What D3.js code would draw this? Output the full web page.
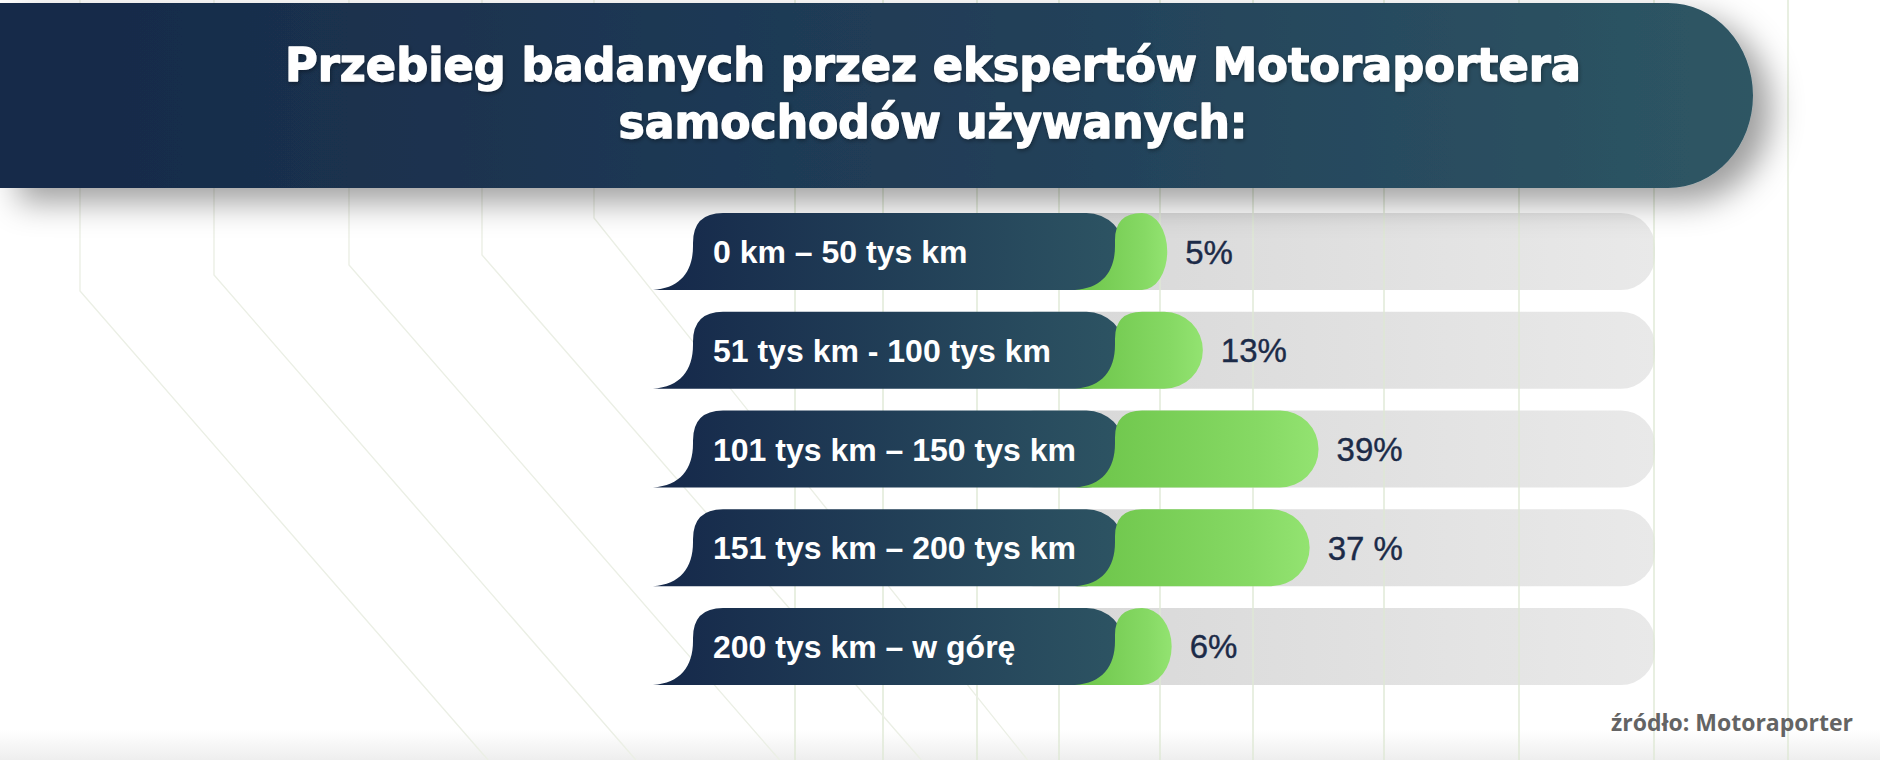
<!DOCTYPE html>
<html>
<head>
<meta charset="utf-8">
<script src="https://cdn.jsdelivr.net/npm/d3@7/dist/d3.min.js"></script>
<style>
  html, body { margin: 0; padding: 0; background: #fff; }
  svg { display: block; }
</style>
</head>
<body>
<script>
'use strict';

var width  = 1880;
var height = 760;

// data
var categories  = ['0 km – 50 tys km', '51 tys km - 100 tys km', '101 tys km – 150 tys km',
                   '151 tys km – 200 tys km', '200 tys km – w górę'];
var values      = [5, 13, 39, 37, 6];
var valueLabels = ['5%', '13%', '39%', '37 %', '6%'];
var titleLines  = ['Przebieg badanych przez ekspertów Motoraportera', 'samochodów używanych:'];
var sourceText  = 'źródło: Motoraporter';

// decoration: background guide lines (x of vertical part, y where it bends)
var guideX    = [795, 883, 977, 1059, 1160, 1253, 1384, 1519, 1654, 1788];
var bentX     = [80, 214, 349, 482, 594];
var bentY     = [291, 275, 265, 255, 218];

var svg = d3.select('body').append('svg')
    .attr('width', width)
    .attr('height', height);

var defs = svg.append('defs');

function hGrad(id, stops) {
  var g = defs.append('linearGradient').attr('id', id)
    .attr('x1', 0).attr('y1', 0).attr('x2', 1).attr('y2', 0);
  stops.forEach(function(s) {
    g.append('stop').attr('offset', s[0]).attr('stop-color', s[1]);
  });
}

hGrad('bannerGrad', [[0, '#162948'], [0.55, '#213e58'], [1, '#2e5664']]);
hGrad('tabGrad',    [[0, '#15284a'], [1, '#2d5463']]);
hGrad('greenGrad',  [[0, '#6cc449'], [0.75, '#86d964'], [1, '#93e371']]);
hGrad('trackGrad',  [[0, '#d6d6d6'], [1, '#e9e9e9']]);

var vg = defs.append('linearGradient').attr('id', 'bottomGrad')
  .attr('x1', 0).attr('y1', 0).attr('x2', 0).attr('y2', 1);
vg.append('stop').attr('offset', 0).attr('stop-color', '#fff');
vg.append('stop').attr('offset', 1).attr('stop-color', '#eeeeee');

var shadow = defs.append('filter').attr('id', 'bannerShadow')
  .attr('x', '-5%').attr('y', '-20%').attr('width', '115%').attr('height', '160%');
shadow.append('feDropShadow')
  .attr('dx', 18).attr('dy', 14).attr('stdDeviation', 16)
  .attr('flood-color', '#000').attr('flood-opacity', 0.38);

var textShadow = defs.append('filter').attr('id', 'textShadow')
  .attr('x', '-5%').attr('y', '-30%').attr('width', '110%').attr('height', '160%');
textShadow.append('feDropShadow')
  .attr('dx', 1).attr('dy', 2).attr('stdDeviation', 2)
  .attr('flood-color', '#000').attr('flood-opacity', 0.35);

// scales
var y = d3.scaleBand()
    .domain(categories)
    .range([213, 685])
    .paddingInner(0.22);

var x = d3.scaleLinear()
    .domain([0, 100])
    .range([1145, 1590]);

var h = y.bandwidth();

// faint strip at the bottom
svg.append('rect')
  .attr('x', 0).attr('y', 730).attr('width', width).attr('height', 30)
  .attr('fill', 'url(#bottomGrad)');

// grey tracks
svg.append('g').selectAll('rect')
  .data(categories)
  .enter().append('rect')
    .attr('x', 1000)
    .attr('y', function(d) { return y(d); })
    .attr('width', 655)
    .attr('height', h)
    .attr('rx', 34)
    .attr('fill', 'url(#trackGrad)');

// guide lines
var lines = svg.append('g')
  .attr('fill', 'none')
  .attr('stroke', '#dfe8d5')
  .attr('stroke-width', 1.4);

lines.selectAll('line')
  .data(guideX)
  .enter().append('line')
    .attr('x1', function(d) { return d; })
    .attr('x2', function(d) { return d; })
    .attr('y1', 0)
    .attr('y2', height);

lines.selectAll('path')
  .data(bentX)
  .enter().append('path')
    .attr('stroke', '#ebefe5')
    .attr('d', function(d, i) {
      var by = bentY[i];
      var k = i === 4 ? 0.8 : 0.87;
      return 'M' + d + ',0 L' + d + ',' + by + ' L' + (d + k * (height - by)) + ',' + height;
    });

// title banner
svg.append('path')
  .attr('d', 'M0,3 H1668 A85,92.5 0 0 1 1668,188 H0 Z')
  .attr('fill', 'url(#bannerGrad)')
  .attr('filter', 'url(#bannerShadow)');

var title = svg.append('g')
  .attr('fill', '#fff')
  .attr('stroke', '#fff')
  .attr('stroke-width', 1.3)
  .attr('stroke-linejoin', 'round')
  .attr('font-family', '"DejaVu Sans", "Liberation Sans", sans-serif')
  .attr('font-weight', 'bold')
  .attr('font-size', 46)
  .attr('text-anchor', 'middle')
  .attr('filter', 'url(#textShadow)');

title.selectAll('text')
  .data(titleLines)
  .enter().append('text')
    .attr('x', 933)
    .attr('y', function(d, i) { return i === 0 ? 81 : 138; })
    .attr('textLength', function(d, i) { return i === 0 ? 1296 : 629; })
    .attr('lengthAdjust', 'spacingAndGlyphs')
    .text(function(d) { return d; });

// tab shape: flared tail at bottom-left, rounded top-left, rounded right end
function tab(x0, x1, top, r) {
  var b = top + h;
  var ry = h / 2;
  var cx = Math.max(x0 + r, x1 - ry);
  var rx = x1 - cx;
  return 'M' + (x0 - 40) + ',' + b +
    ' C' + (x0 - 13) + ',' + (b - 2) + ' ' + x0 + ',' + (b - 18) + ' ' + x0 + ',' + (b - 44) +
    ' L' + x0 + ',' + (top + r) +
    ' Q' + x0 + ',' + top + ' ' + (x0 + r) + ',' + top +
    ' L' + cx + ',' + top +
    ' A' + rx + ',' + ry + ' 0 0 1 ' + cx + ',' + b + ' Z';
}

var rows = svg.append('g').selectAll('g')
  .data(categories)
  .enter().append('g');

rows.append('path')
  .attr('d', function(d) { return tab(693, 1125, y(d), 30); })
  .attr('fill', 'url(#tabGrad)');

rows.append('path')
  .attr('d', function(d, i) { return tab(1115, x(values[i]), y(d), 27); })
  .attr('fill', 'url(#greenGrad)');

rows.append('text')
  .attr('x', 713)
  .attr('y', function(d) { return y(d) + h / 2 + 11.5; })
  .attr('fill', '#fff')
  .attr('font-family', '"Liberation Sans", Arial, sans-serif')
  .attr('font-weight', 'bold')
  .attr('font-size', 32)
  .text(function(d) { return d; });

rows.append('text')
  .attr('x', function(d, i) { return x(values[i]) + 18; })
  .attr('y', function(d) { return y(d) + h / 2 + 12; })
  .attr('fill', '#1c2b48')
  .attr('stroke', '#1c2b48')
  .attr('stroke-width', 0.4)
  .attr('font-family', '"Liberation Sans", Arial, sans-serif')
  .attr('font-size', 33)
  .text(function(d, i) { return valueLabels[i]; });

// source
svg.append('text')
  .attr('x', 1853)
  .attr('y', 731)
  .attr('text-anchor', 'end')
  .attr('fill', '#646464')
  .attr('font-family', '"Open Sans", sans-serif')
  .attr('font-weight', 'bold')
  .attr('font-size', 23)
  .text(sourceText);
</script>
</body>
</html>
